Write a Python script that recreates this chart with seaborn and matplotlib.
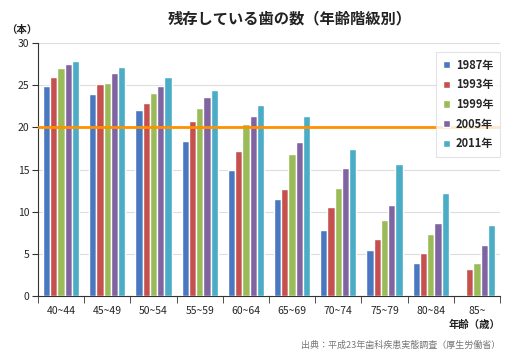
import matplotlib
matplotlib.use("Agg")
import matplotlib.pyplot as plt
import seaborn as sns
import numpy as np
import pandas as pd

ages = ['40~44', '45~49', '50~54', '55~59', '60~64', '65~69', '70~74', '75~79', '80~84', '85~']
years = ['1987年', '1993年', '1999年', '2005年', '2011年']
v1987 = [24.9, 23.9, 22.1, 18.4, 15.0, 11.5, 7.8, 5.5, 3.9, np.nan]
v1993 = [26.0, 25.1, 22.9, 20.8, 17.2, 12.7, 10.6, 6.7, 5.1, 3.2]
v1999 = [27.0, 25.2, 24.1, 22.3, 20.4, 16.8, 12.8, 9.0, 7.4, 3.9]
v2005 = [27.5, 26.5, 24.9, 23.6, 21.3, 18.3, 15.2, 10.8, 8.7, 6.0]
v2011 = [27.9, 27.1, 26.0, 24.4, 22.6, 21.3, 17.4, 15.6, 12.2, 8.4]
colors = ['#4A78C0', '#C5504D', '#9BBB59', '#8064A2', '#4BACC6']

df = pd.DataFrame({
    'age': ages * 5,
    'year': np.repeat(years, len(ages)),
    'teeth': v1987 + v1993 + v1999 + v2005 + v2011,
})

sns.set_style('white')
plt.rcParams['font.family'] = ['Noto Sans CJK JP', 'DejaVu Sans']

fig = plt.figure(figsize=(5.1, 3.59), dpi=100)
ax = fig.add_axes([38 / 510, 63 / 359, 462 / 510, 253 / 359])

sns.barplot(data=df, x='age', y='teeth', hue='year', palette=colors,
            width=0.78, saturation=1, ax=ax, zorder=3)

ax.axhline(20, color='#FF9000', lw=2, zorder=4)

ax.set_ylim(0, 30)
ax.set_xlim(-0.5, 9.5)
ax.set_yticks([0, 5, 10, 15, 20, 25, 30])
ax.yaxis.grid(True, color='#DDDDDD', lw=0.8, zorder=0)
ax.set_xlabel('')
ax.set_ylabel('')
for s in ['top', 'right']:
    ax.spines[s].set_visible(False)
ax.spines['left'].set_color('#333333')
ax.spines['bottom'].set_color('#333333')

ax.tick_params(axis='x', which='major', length=0, labelsize=7.5, pad=7)
ax.set_xticks(np.arange(-0.5, 10, 1), minor=True)
ax.tick_params(axis='x', which='minor', length=5, color='#333333', bottom=True)
ax.tick_params(axis='y', length=4, labelsize=7.5, left=True, color='#333333', pad=2)

leg = ax.legend(loc='upper right', bbox_to_anchor=(1.0, 0.965),
                prop={'size': 8, 'weight': 'bold'},
                frameon=True, fancybox=False, edgecolor='#DDDDDD',
                handlelength=0.65, handleheight=0.65, labelspacing=0.6,
                handletextpad=0.5, borderpad=0.6, borderaxespad=0)
leg.get_frame().set_linewidth(0.8)
leg.set_zorder(5)

fig.text(290 / 510, 1 - 18 / 359, '残存している歯の数（年齢階級別）', ha='center', va='center',
         fontsize=11, fontweight='bold', color='#222222')
fig.text(22 / 510, 1 - 30 / 359, '（本）', ha='center', va='center', fontsize=7.5,
         fontweight='bold', color='#222222')
fig.text(500 / 510, 1 - 325 / 359, '年齢（歳）', ha='right', va='center', fontsize=7.5,
         fontweight='bold', color='#222222')
fig.text(500 / 510, 1 - 345 / 359, '出典：平成23年歯科疾患実態調査（厚生労働省）', ha='right', va='center',
         fontsize=6.5, color='#777777')

fig.savefig('out.png', dpi=100, facecolor='white')
